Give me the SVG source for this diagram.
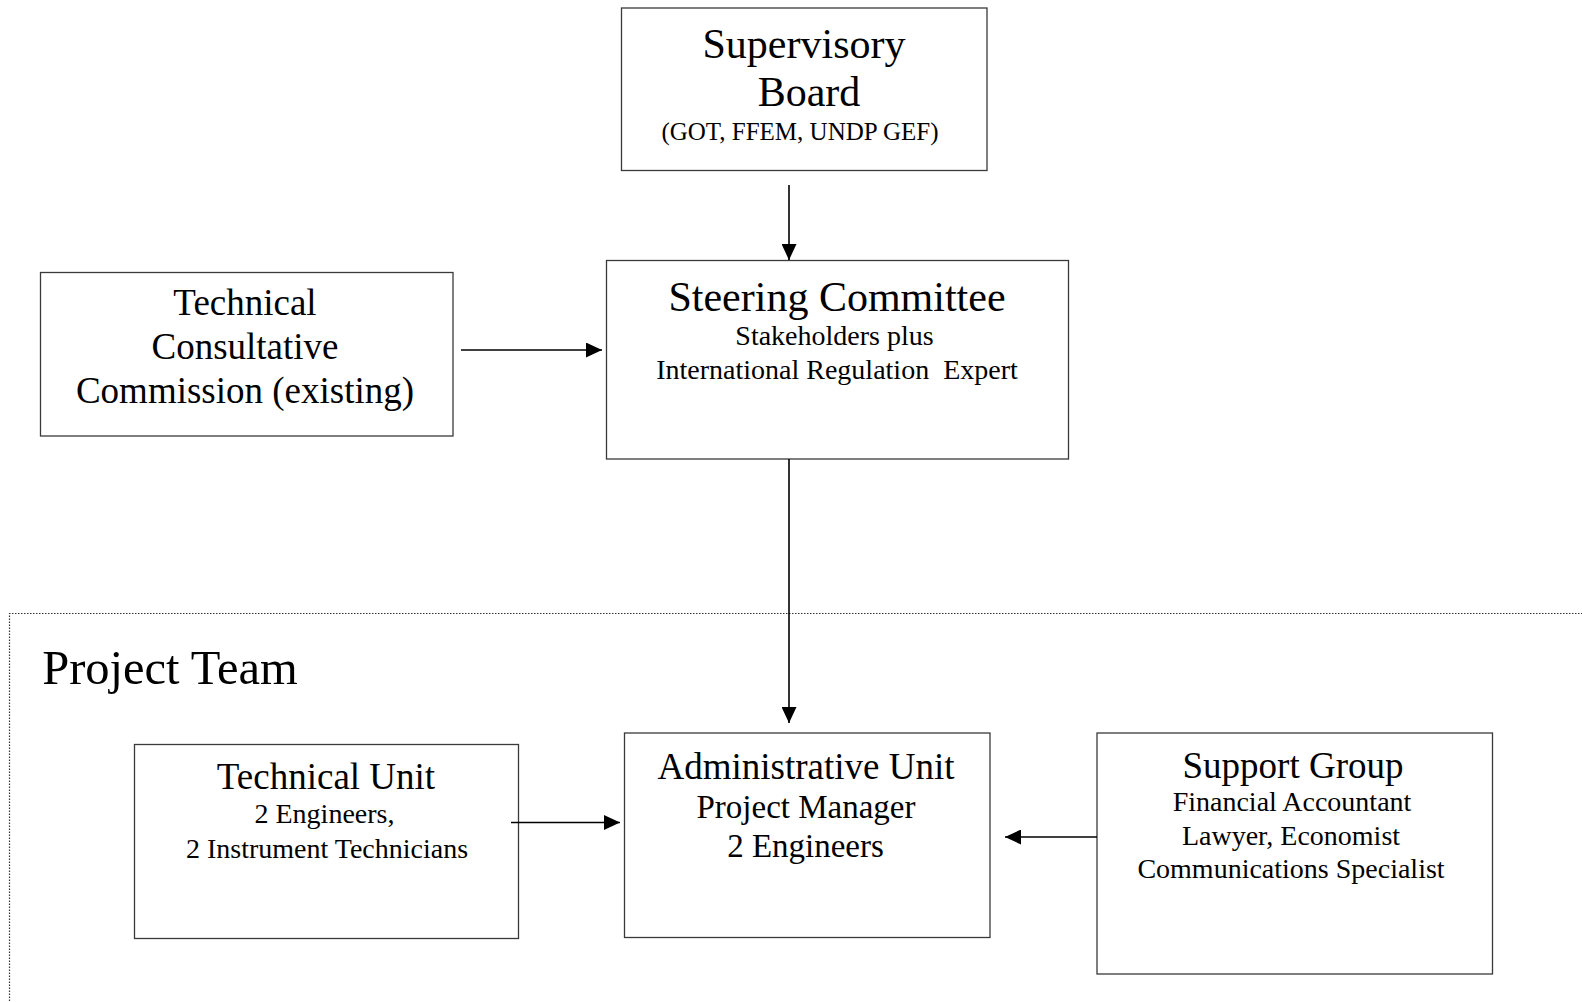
<svg xmlns="http://www.w3.org/2000/svg" width="1582" height="1002" viewBox="0 0 1582 1002">
<style>
  .box { fill: #ffffff; stroke: #3a3a3a; stroke-width: 1.3; }
  text { font-family: "Liberation Serif", "Times New Roman", serif; fill: #000; text-anchor: middle; }
  .h42 { font-size: 42px; }
  .h37 { font-size: 37px; }
  .h33 { font-size: 33px; }
  .s28 { font-size: 28px; }
  .s25 { font-size: 25px; }
  .conn { stroke: #000; stroke-width: 1.6; fill: none; }
  .team { stroke: #333; stroke-width: 1.2; stroke-dasharray: 1.5 1.5; fill: none; }
</style>
<defs>
  <marker id="arrow" markerUnits="userSpaceOnUse" markerWidth="17" markerHeight="15" refX="16" refY="7.5" orient="auto">
    <path d="M0,0 L16,7.5 L0,15 Z" fill="#000"/>
  </marker>
</defs>
<rect width="1582" height="1002" fill="#ffffff"/>

<g id="project-team">
  <path class="team" d="M9.5,1010 V613.5 H1590"/>
  <text x="170" y="684" style="font-size:48.5px">Project Team</text>
</g>

<g id="supervisory-board">
  <rect class="box" x="621.5" y="8" width="365.5" height="162.5"/>
  <text class="h42" x="804" y="58">Supervisory</text>
  <text class="h42" x="809" y="106">Board</text>
  <text class="s25" x="800" y="140">(GOT, FFEM, UNDP GEF)</text>
</g>

<g id="technical-consultative-commission">
  <rect class="box" x="40.5" y="272.5" width="412.5" height="163.5"/>
  <text class="h37" x="245" y="315">Technical</text>
  <text class="h37" x="245" y="359">Consultative</text>
  <text class="h37" x="245" y="403">Commission (existing)</text>
</g>

<g id="steering-committee">
  <rect class="box" x="606.5" y="260.5" width="462" height="198.5"/>
  <text class="h42" x="837" y="311">Steering Committee</text>
  <text class="s28" x="834.5" y="345">Stakeholders plus</text>
  <text class="s28" x="837" y="379" xml:space="preserve">International Regulation  Expert</text>
</g>

<g id="technical-unit">
  <rect class="box" x="134.5" y="744.5" width="384" height="194"/>
  <text class="h37" x="326" y="789">Technical Unit</text>
  <text class="s28" x="324.5" y="823">2 Engineers,</text>
  <text class="s28" x="327" y="858">2 Instrument Technicians</text>
</g>

<g id="administrative-unit">
  <rect class="box" x="624.5" y="733" width="365.5" height="204.5"/>
  <text class="h37" x="806" y="779">Administrative Unit</text>
  <text class="h33" x="806" y="818">Project Manager</text>
  <text class="h33" x="805.5" y="857">2 Engineers</text>
</g>

<g id="support-group">
  <rect class="box" x="1097" y="733" width="395.5" height="241"/>
  <text class="h37" x="1293" y="778">Support Group</text>
  <text class="s28" x="1292" y="811">Financial Accountant</text>
  <text class="s28" x="1291" y="845">Lawyer, Economist</text>
  <text class="s28" x="1291" y="878">Communications Specialist</text>
</g>

<g id="connectors">
  <line class="conn" x1="789" y1="185" x2="789" y2="260" marker-end="url(#arrow)"/>
  <line class="conn" x1="461" y1="350" x2="602" y2="350" marker-end="url(#arrow)"/>
  <line class="conn" x1="789" y1="459" x2="789" y2="723" marker-end="url(#arrow)"/>
  <line class="conn" x1="511" y1="822.5" x2="620" y2="822.5" marker-end="url(#arrow)"/>
  <line class="conn" x1="1097" y1="837" x2="1005" y2="837" marker-end="url(#arrow)"/>
</g>
</svg>
